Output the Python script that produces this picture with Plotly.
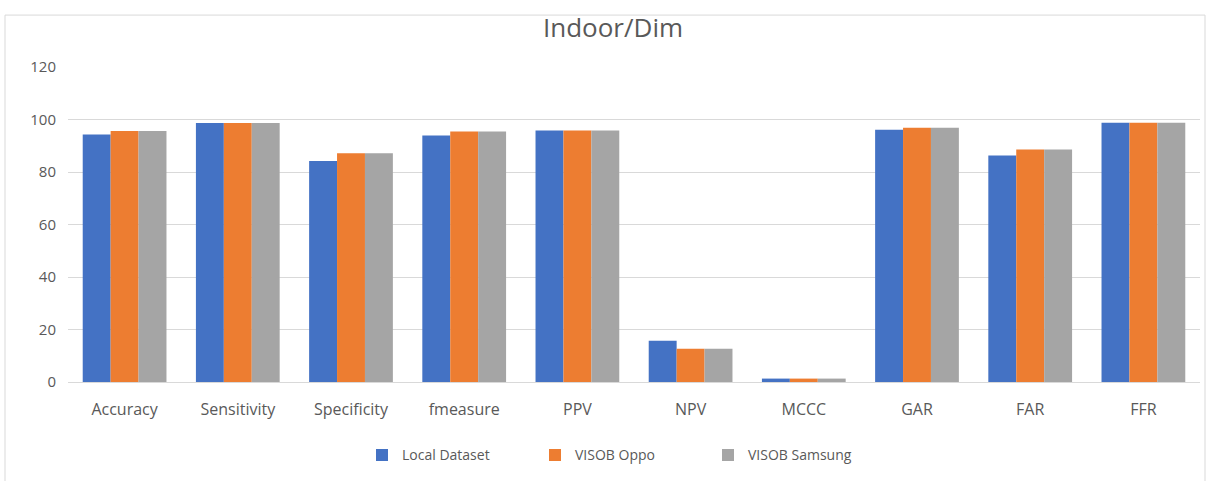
import plotly.graph_objects as go

categories = ["Accuracy", "Sensitivity", "Specificity", "fmeasure", "PPV",
              "NPV", "MCCC", "GAR", "FAR", "FFR"]
local_dataset = [94.3, 98.7, 84.2, 93.9, 95.8, 15.7, 1.3, 96.1, 86.3, 98.8]
visob_oppo = [95.6, 98.7, 87.1, 95.4, 95.8, 12.7, 1.3, 96.9, 88.6, 98.8]
visob_samsung = [95.6, 98.7, 87.1, 95.4, 95.8, 12.7, 1.3, 96.9, 88.6, 98.8]
series_names = ["Local Dataset", "VISOB Oppo", "VISOB Samsung"]
colors = ["#4472C4", "#ED7D31", "#A5A5A5"]

W, H = 1214, 481
L, R, T, B = 68, 14, 67, 98.5
pw, ph = W - L - R, H - T - B

def px_x(p):
    return (p - L) / pw

def px_y(p):
    return (H - B - p) / ph

fig = go.Figure()
for name, vals, c in zip(series_names, [local_dataset, visob_oppo, visob_samsung], colors):
    fig.add_trace(go.Bar(x=categories, y=vals, name=name, marker_color=c,
                         marker_line_width=0))

fig.update_layout(
    width=W, height=H,
    margin=dict(l=L, r=R, t=T, b=B, pad=0, autoexpand=False),
    paper_bgcolor="white", plot_bgcolor="white",
    barmode="group", bargap=0.26, bargroupgap=0,
    font=dict(family="Open Sans, sans-serif", color="#595959", size=15),
    title=dict(text="Indoor/Dim", x=613 / W, xanchor="center",
               yref="container", y=1 - 28 / H, yanchor="middle",
               font=dict(size=26, color="#595959")),
    legend=dict(orientation="h", x=px_x(362), xanchor="left",
                y=px_y(456), yanchor="middle", font=dict(size=14, color="#595959"),
                itemwidth=30, entrywidth=128, traceorder="normal"),
    xaxis=dict(showgrid=False, showline=True, linecolor="#d9d9d9", linewidth=1,
               ticks="outside", ticklen=13, tickcolor="rgba(0,0,0,0)",
               tickfont=dict(size=16, color="#595959")),
    yaxis=dict(range=[0, 120], dtick=20, showgrid=True, gridcolor="#d9d9d9",
               gridwidth=1, zeroline=False, showline=False,
               ticks="outside", ticklen=8, tickcolor="rgba(0,0,0,0)",
               tickfont=dict(size=15, color="#595959")),
    shapes=[dict(type="rect", xref="paper", yref="paper",
                 x0=px_x(5), x1=px_x(1205), y0=px_y(15), y1=px_y(490),
                 line=dict(color="#d9d9d9", width=1), layer="below")],
)

fig.write_html("out.html")
